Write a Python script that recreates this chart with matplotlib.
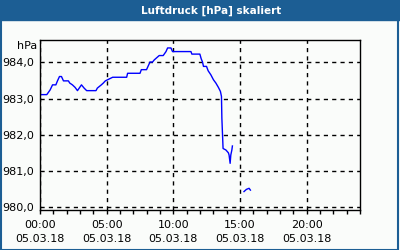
import matplotlib
matplotlib.use("Agg")
import matplotlib.pyplot as plt
import numpy as np
from matplotlib.patches import Rectangle

# Luftdruck, Stunden seit 00:00 am 05.03.18 (nan = Messluecke)
hours = [0.0, 0.06, 0.51, 0.76, 0.94, 1.19, 1.31, 1.46, 1.61, 1.76, 2.13, 2.23,
         2.43, 2.63, 2.81, 3.11, 3.31, 3.5, 4.2, 4.3, 4.6, 4.75, 4.9, 5.45,
         6.5, 6.57, 7.5, 7.6, 7.99, 8.1, 8.25, 8.44, 8.57, 8.94, 9.24, 9.45,
         9.57, 9.82, 9.94, 11.32, 11.39, 11.99, 12.09, 12.19, 12.26, 12.49,
         12.61, 12.81, 13.01, 13.19, 13.38, 13.53, 13.61, 13.64, 13.73, 13.94,
         14.06, 14.13, 14.18, 14.26, 14.31, 14.39, 14.43,
         14.8,
         15.3, 15.48, 15.68, 15.78]
pressure = [983.06, 983.11, 983.11, 983.24, 983.38, 983.38, 983.49, 983.61,
            983.61, 983.49, 983.49, 983.43, 983.38, 983.31, 983.22, 983.38,
            983.29, 983.22, 983.22, 983.29, 983.38, 983.43, 983.49, 983.59,
            983.59, 983.70, 983.70, 983.80, 983.80, 983.89, 984.01, 984.01,
            984.07, 984.19, 984.19, 984.30, 984.40, 984.40, 984.30, 984.30,
            984.23, 984.23, 984.10, 984.01, 983.89, 983.89, 983.77, 983.66,
            983.52, 983.43, 983.31, 983.20, 983.06, 982.46, 981.62, 981.58,
            981.53, 981.50, 981.44, 981.21, 981.44, 981.58, 981.69,
            np.nan,
            980.43, 980.49, 980.52, 980.47]

y_ticks = [980.0, 981.0, 982.0, 983.0, 984.0]
x_ticks = [0, 5, 10, 15, 20]
x_labels = ["00:00\n05.03.18", "05:00\n05.03.18", "10:00\n05.03.18",
            "15:00\n05.03.18", "20:00\n05.03.18"]

bar_color = "#1c5e94"

fig = plt.figure(figsize=(4, 2.5), dpi=100)
fig.patch.set_facecolor("#fafcfa")

# Titelleiste und Rahmen
fig.patches.append(Rectangle((0, 1 - 20 / 250), 1, 20 / 250, transform=fig.transFigure,
                             color=bar_color, zorder=0))
fig.patches.append(Rectangle((0.5 / 400, 0.5 / 250), 1 - 2.5 / 400, 1 - 1 / 250,
                             transform=fig.transFigure, fill=False,
                             edgecolor=bar_color, linewidth=1.5, zorder=1))
fig.text(0.527, 1 - 10.5 / 250, "Luftdruck [hPa] skaliert", color="white",
         fontsize=7.5, fontweight="bold", ha="center", va="center")

ax = fig.add_axes([40 / 400, 40 / 250, 320 / 400, 170 / 250])
ax.set_facecolor("#fafcfa")
ax.plot(hours, pressure, color="#0000ff", linewidth=1)

ax.set_xlim(0, 24)
ax.set_ylim(979.92, 984.62)
ax.set_yticks(y_ticks)
ax.set_yticklabels([f"{v:.1f}".replace(".", ",") for v in y_ticks])
ax.set_xticks(x_ticks)
ax.set_xticklabels(x_labels, linespacing=1.55)
ax.set_xticks(np.arange(0, 25, 1), minor=True)

ax.tick_params(axis="y", length=0, pad=4, labelsize=8)
ax.tick_params(axis="x", which="both", direction="out", length=3, width=1,
               pad=4, labelsize=8)
ax.grid(True, which="major", color="black", linestyle=(0, (3, 3)), linewidth=1)
for s in ax.spines.values():
    s.set_linewidth(1)

fig.text(37 / 400, 1 - 46 / 250, "hPa", fontsize=8, ha="right", va="center")

fig.savefig("out.png", dpi=100, facecolor=fig.get_facecolor())
